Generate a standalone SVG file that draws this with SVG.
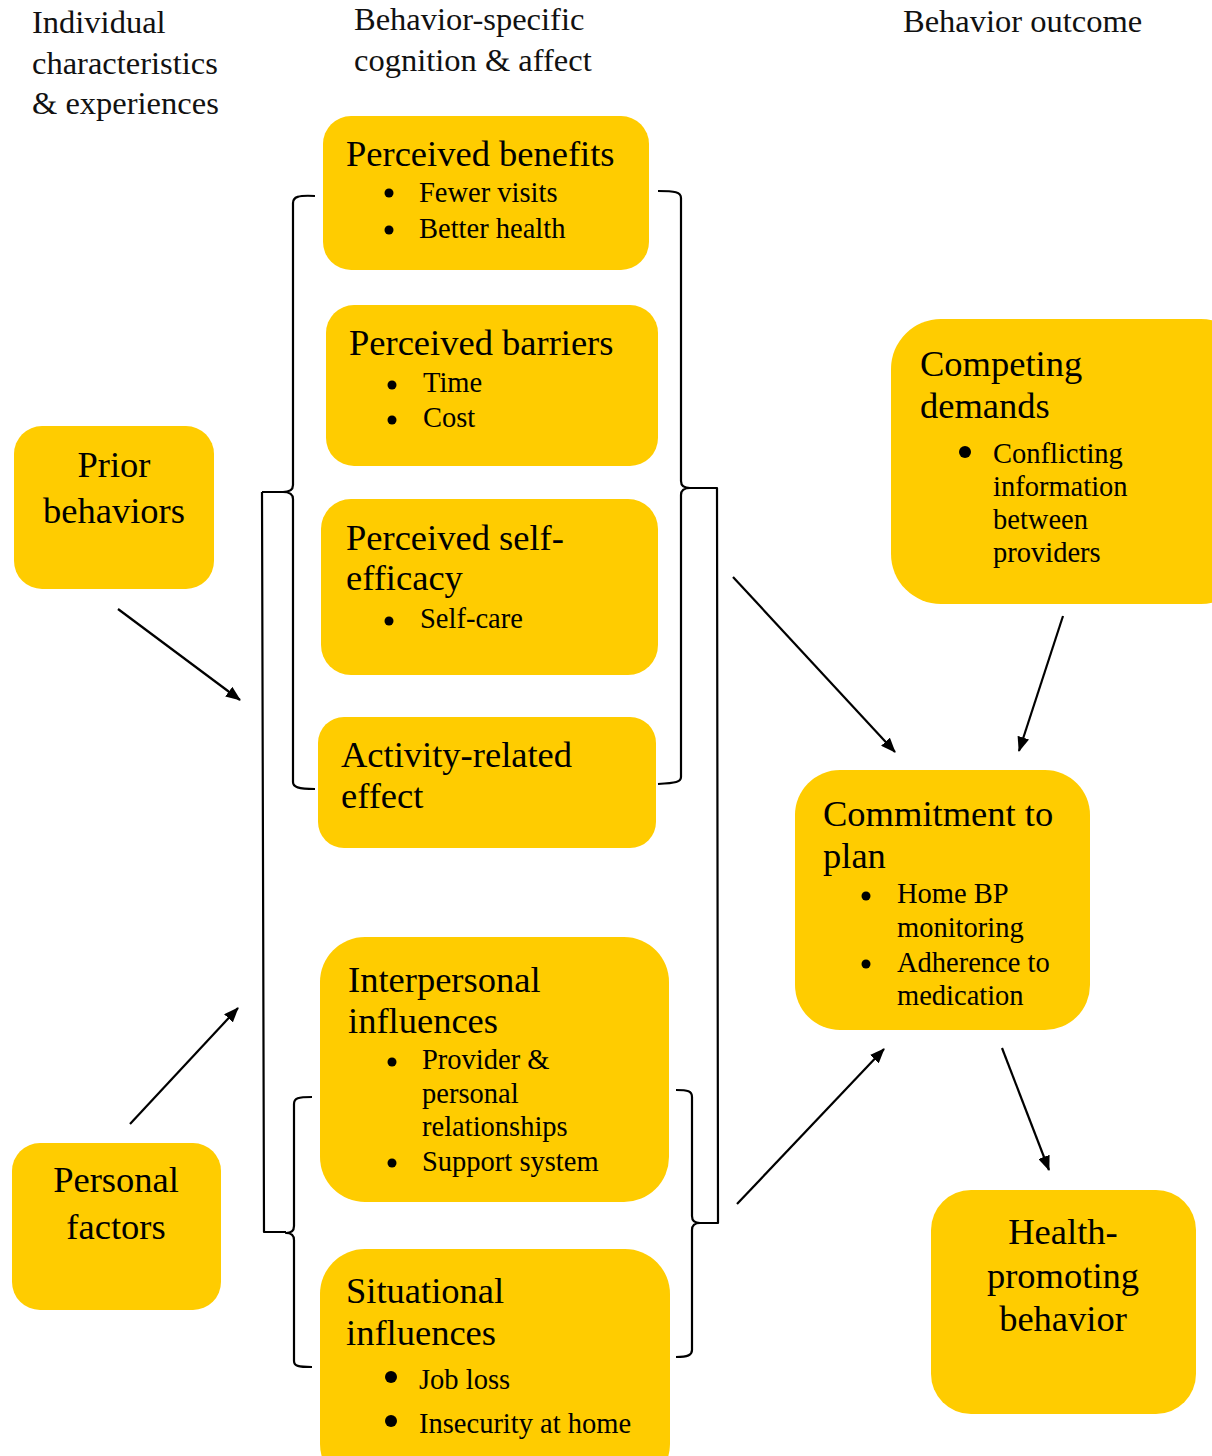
<svg xmlns="http://www.w3.org/2000/svg" width="1212" height="1456" viewBox="0 0 1212 1456">
<style>
.box{fill:#FFCC00;}
.hd{font-family:"Liberation Serif","Times New Roman",serif;font-size:32.5px;fill:#111;}
.t{font-family:"Liberation Serif","Times New Roman",serif;font-size:36.5px;fill:#000;}
.b{font-family:"Liberation Serif","Times New Roman",serif;font-size:28.5px;fill:#000;}
.c{text-anchor:middle;}
.ln{fill:none;stroke:#000;stroke-width:2.2;stroke-linecap:butt;stroke-linejoin:round;}
.ar{fill:none;stroke:#000;stroke-width:2.2;marker-end:url(#ah);}
</style>
<defs>
<marker id="ah" markerUnits="userSpaceOnUse" markerWidth="16" markerHeight="12" refX="14" refY="6" orient="auto">
<path d="M0,0 L15,6 L0,12 Z" fill="#000"/>
</marker>
</defs>
<rect width="1212" height="1456" fill="#fff"/>

<g id="headers">
<text class="hd" x="32" y="33">Individual</text>
<text class="hd" x="32" y="74">characteristics</text>
<text class="hd" x="32" y="114">&amp; experiences</text>
<text class="hd" x="354" y="30">Behavior-specific</text>
<text class="hd" x="354" y="71">cognition &amp; affect</text>
<text class="hd" x="903" y="32">Behavior outcome</text>
</g>

<g id="connectors">
<path class="ln" d="M315,196 C298,195 293,197 293,203 L293,485 C293,490 290,492 283,492 C290,492 293,494 293,499 L293,782 C293,787 298,789 315,789"/>
<path class="ln" d="M262,492 L283,492 M262,492 L264,1232 L286,1232"/>
<path class="ln" d="M312,1097 C298,1097 294,1098 294,1104 L294,1226 C294,1231 291,1233 286,1233 C291,1233 294,1235 294,1240 L294,1361 C294,1366 298,1367 312,1367"/>
<path class="ln" d="M658,191 C675,191 681,192 681,198 L681,481 C681,486 684,488 690,488 C684,488 681,490 681,495 L681,777 C681,782 676,783 658,784"/>
<path class="ln" d="M690,488 L717,488 L718,1223 L700,1223"/>
<path class="ln" d="M676,1090 C688,1090 692,1091 692,1097 L692,1216 C692,1221 695,1223 700,1223 C695,1223 692,1225 692,1230 L692,1350 C692,1355 688,1357 676,1357"/>
<line class="ar" x1="118" y1="609" x2="240" y2="700"/>
<line class="ar" x1="130" y1="1124" x2="238" y2="1008"/>
<line class="ar" x1="733" y1="577" x2="895" y2="752"/>
<line class="ar" x1="1063" y1="616" x2="1019" y2="751"/>
<line class="ar" x1="737" y1="1204" x2="884" y2="1049"/>
<line class="ar" x1="1002" y1="1048" x2="1049" y2="1170"/>
</g>

<g id="perceived-benefits">
<rect class="box" x="323" y="116" width="326" height="154" rx="28"/>
<text class="t" x="346" y="166">Perceived benefits</text>
<circle cx="389" cy="193" r="4.5"/>
<text class="b" x="419" y="202">Fewer visits</text>
<circle cx="389" cy="230" r="4.5"/>
<text class="b" x="419" y="238">Better health</text>
</g>

<g id="perceived-barriers">
<rect class="box" x="326" y="305" width="332" height="161" rx="28"/>
<text class="t" x="349" y="355">Perceived barriers</text>
<circle cx="392" cy="385" r="4.5"/>
<text class="b" x="423" y="392">Time</text>
<circle cx="392" cy="420" r="4.5"/>
<text class="b" x="423" y="427">Cost</text>
</g>

<g id="perceived-self-efficacy">
<rect class="box" x="321" y="499" width="337" height="176" rx="30"/>
<text class="t" x="346" y="550">Perceived self-</text>
<text class="t" x="346" y="590">efficacy</text>
<circle cx="389" cy="621" r="4.5"/>
<text class="b" x="420" y="628">Self-care</text>
</g>

<g id="activity-related-effect">
<rect class="box" x="318" y="717" width="338" height="131" rx="26"/>
<text class="t" x="341" y="767">Activity-related</text>
<text class="t" x="341" y="808">effect</text>
</g>

<g id="interpersonal-influences">
<rect class="box" x="320" y="937" width="349" height="265" rx="45"/>
<text class="t" x="348" y="992">Interpersonal</text>
<text class="t" x="348" y="1033">influences</text>
<circle cx="392" cy="1062" r="4.5"/>
<text class="b" x="422" y="1069">Provider &amp;</text>
<text class="b" x="422" y="1103">personal</text>
<text class="b" x="422" y="1136">relationships</text>
<circle cx="392" cy="1163" r="4.5"/>
<text class="b" x="422" y="1171">Support system</text>
</g>

<g id="situational-influences">
<rect class="box" x="320" y="1249" width="350" height="240" rx="45"/>
<text class="t" x="346" y="1303">Situational</text>
<text class="t" x="346" y="1345">influences</text>
<circle cx="391" cy="1377" r="6"/>
<text class="b" x="419" y="1389">Job loss</text>
<circle cx="391" cy="1421" r="6"/>
<text class="b" x="419" y="1433">Insecurity at home</text>
</g>

<g id="prior-behaviors">
<rect class="box" x="14" y="426" width="200" height="163" rx="28"/>
<text class="t c" x="114" y="477">Prior</text>
<text class="t c" x="114" y="523">behaviors</text>
</g>

<g id="personal-factors">
<rect class="box" x="12" y="1143" width="209" height="167" rx="28"/>
<text class="t c" x="116" y="1192">Personal</text>
<text class="t c" x="116" y="1239">factors</text>
</g>

<g id="competing-demands">
<rect class="box" x="891" y="319" width="360" height="285" rx="50"/>
<text class="t" x="920" y="376">Competing</text>
<text class="t" x="920" y="418">demands</text>
<circle cx="965" cy="452" r="6"/>
<text class="b" x="993" y="463">Conflicting</text>
<text class="b" x="993" y="496">information</text>
<text class="b" x="993" y="529">between</text>
<text class="b" x="993" y="562">providers</text>
</g>

<g id="commitment-to-plan">
<rect class="box" x="795" y="770" width="295" height="260" rx="45"/>
<text class="t" x="823" y="826">Commitment to</text>
<text class="t" x="823" y="868">plan</text>
<circle cx="866" cy="896" r="4.5"/>
<text class="b" x="897" y="903">Home BP</text>
<text class="b" x="897" y="937">monitoring</text>
<circle cx="866" cy="964" r="4.5"/>
<text class="b" x="897" y="972">Adherence to</text>
<text class="b" x="897" y="1005">medication</text>
</g>

<g id="health-promoting-behavior">
<rect class="box" x="931" y="1190" width="265" height="224" rx="40"/>
<text class="t c" x="1063" y="1244">Health-</text>
<text class="t c" x="1063" y="1288">promoting</text>
<text class="t c" x="1063" y="1331">behavior</text>
</g>
</svg>
